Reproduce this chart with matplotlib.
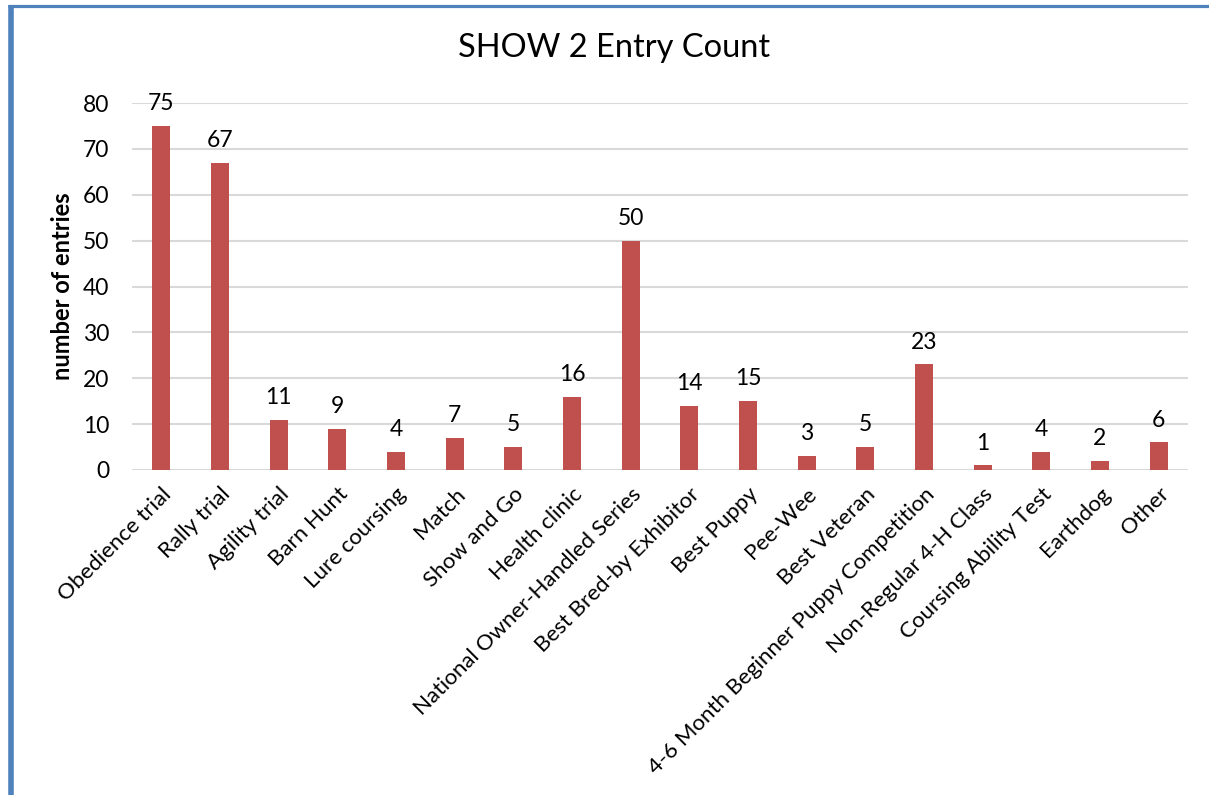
import matplotlib
matplotlib.use("Agg")
import matplotlib.pyplot as plt
from matplotlib.lines import Line2D

categories = ["Obedience trial", "Rally trial", "Agility trial", "Barn Hunt", "Lure coursing",
              "Match", "Show and Go", "Health clinic", "National Owner-Handled Series",
              "Best Bred-by Exhibitor", "Best Puppy", "Pee-Wee", "Best Veteran",
              "4-6 Month Beginner Puppy Competition", "Non-Regular 4-H Class",
              "Coursing Ability Test", "Earthdog", "Other"]
values = [75, 67, 11, 9, 4, 7, 5, 16, 50, 14, 15, 3, 5, 23, 1, 4, 2, 6]
yticks = [0, 10, 20, 30, 40, 50, 60, 70, 80]

plt.rcParams['font.family'] = ['Lato', 'DejaVu Sans']

W, H = 1209, 795
fig = plt.figure(figsize=(W / 100, H / 100), dpi=100)
ax = fig.add_axes([132 / W, (H - 470) / H, (1188 - 132) / W, (470 - 103) / H])

x = list(range(len(categories)))
bars = ax.bar(x, values, width=0.31, color="#C0504D", zorder=3)
for xi, v in zip(x, values):
    ax.annotate(str(v), (xi, v), xytext=(0, 8.5), textcoords="offset points",
                ha="center", va="bottom", fontsize=16.5, color="#000000")

ax.set_xlim(-0.5, len(categories) - 0.5)
ax.set_ylim(0, 80)
ax.set_yticks(yticks)
ax.set_yticklabels([str(t) for t in yticks], fontsize=16.5)
ax.set_xticks(x)
ax.set_xticklabels(categories, rotation=45, ha="right", rotation_mode="anchor", fontsize=16)
ax.tick_params(axis="both", length=0)
ax.tick_params(axis="y", pad=16.5)
ax.tick_params(axis="x", pad=10)
ax.grid(axis="y", color="#D9D9D9", linewidth=1.5, zorder=0)
for s in ax.spines.values():
    s.set_visible(False)

fig.text(63 / W, 1 - 286 / H, "number of entries", rotation=90, ha="center", va="center",
         fontsize=17, fontweight="bold")
fig.text(614 / W, 1 - 48 / H, "SHOW 2 Entry Count", ha="center", va="center", fontsize=23.5)

# blue frame (top and left edges)
fig.add_artist(Line2D([8 / W, 1.0], [1 - 5.5 / H, 1 - 5.5 / H], transform=fig.transFigure,
                      color="#4F81BD", linewidth=2.3, solid_capstyle="butt"))
fig.add_artist(Line2D([10.7 / W, 10.7 / W], [0, 1 - 4.5 / H], transform=fig.transFigure,
                      color="#4F81BD", linewidth=4.0, solid_capstyle="butt"))

fig.savefig("out.png", dpi=100, facecolor="white")
